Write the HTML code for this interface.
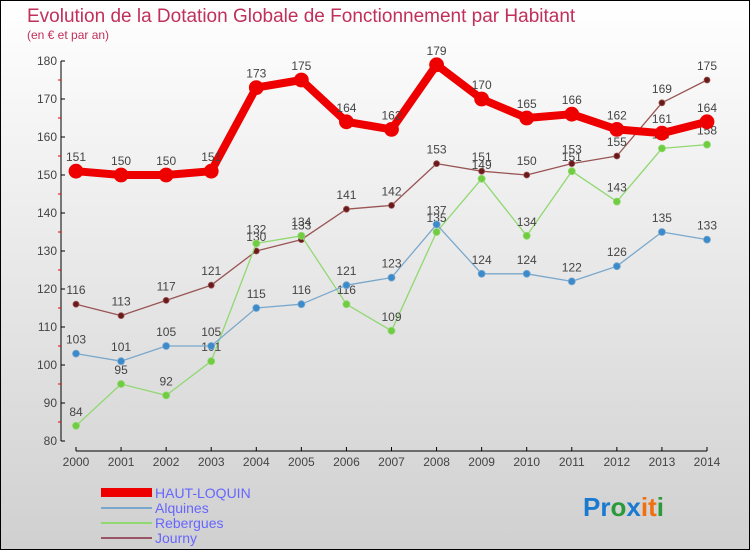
<!DOCTYPE html>
<html><head><meta charset="utf-8"><style>
body{margin:0}
#c{width:748px;height:548px;border:1px solid #000;background:linear-gradient(#fff,#d0d0d0);position:relative;font-family:"Liberation Sans",sans-serif}
</style></head><body>
<div id="c">
<svg id="s" width="748" height="548" style="position:absolute;left:0;top:0">
<text x="26" y="21" font-size="19" fill="#c0305a">Evolution de la Dotation Globale de Fonctionnement par Habitant</text>
<text x="26" y="38" font-size="12" fill="#c0305a">(en € et par an)</text>
<g id="axes"></g><g id="series"></g>
<g>
<rect x="100" y="487" width="51" height="9" fill="#e00"/>
<text x="154" y="497" font-size="14" fill="#66f">HAUT-LOQUIN</text>
<rect x="100" y="506" width="51" height="2" fill="#7aa8cc"/>
<text x="154" y="512" font-size="14" fill="#66f">Alquines</text>
<rect x="100" y="521" width="51" height="2" fill="#90d870"/>
<text x="154" y="527" font-size="14" fill="#66f">Rebergues</text>
<rect x="100" y="536" width="51" height="2" fill="#956"/>
<text x="154" y="542" font-size="14" fill="#66f">Journy</text>
</g>
<text x="582" y="515" font-size="26" font-weight="bold"><tspan fill="#1a7ad0">Pr</tspan><tspan fill="#2a9a3a">o</tspan><tspan fill="#1a7ad0">x</tspan><tspan fill="#f07010">i</tspan><tspan fill="#f07010">t</tspan><tspan fill="#2a9a3a">i</tspan></text>
</svg></div>
<script>
const years=[2000,2001,2002,2003,2004,2005,2006,2007,2008,2009,2010,2011,2012,2013,2014];
const hautLoquin=[151,150,150,151,173,175,164,162,179,170,165,166,162,161,164];
const alquines=[103,101,105,105,115,116,121,123,137,124,124,122,126,135,133];
const rebergues=[84,95,92,101,132,134,116,109,135,149,134,151,143,157,158];
const journy=[116,113,117,121,130,133,141,142,153,151,150,153,155,169,175];
const yTicks=[80,90,100,110,120,130,140,150,160,170,180];
const NS='http://www.w3.org/2000/svg';
function X(i){return 75+i*(631/14);}
function Y(v){return 440-(v-80)*3.8;}
function mk(t,a,p){const e=document.createElementNS(NS,t);for(const k in a)e.setAttribute(k,a[k]);p.appendChild(e);return e;}
const ax=document.getElementById('axes');
let l=mk('line',{x1:60,y1:60,x2:60,y2:440,stroke:'#000'},ax);


l=mk('line',{x1:75,y1:450,x2:706,y2:450,stroke:'#000'},ax);


yTicks.forEach((v,i)=>{
 mk('line',{x1:60,y1:Y(v),x2:64,y2:Y(v),stroke:'#000'},ax);
 if(i<yTicks.length-1)mk('line',{x1:57,y1:Y(v+5),x2:60,y2:Y(v+5),stroke:'#e00'},ax);
 const t=mk('text',{x:56,y:Y(v)+4,'font-size':12,fill:'#444','text-anchor':'end'},ax);t.textContent=v;
 
 
});
years.forEach((y,i)=>{
 mk('line',{x1:X(i),y1:446,x2:X(i),y2:450,stroke:'#000'},ax);
 const t=mk('text',{x:X(i),y:465,'font-size':12,fill:'#444','text-anchor':'middle'},ax);t.textContent=y;
 
 
});
const sg=document.getElementById('series');
function draw(d,name,col,pt,w,r){
 const g=mk('g',{},sg);
 
 
 mk('polyline',{points:d.map((v,i)=>X(i)+','+Y(v)).join(' '),fill:'none',stroke:col,'stroke-width':w,'stroke-linejoin':'round'},g);
 d.forEach((v,i)=>{
  const c=mk('circle',{cx:X(i),cy:Y(v),r:r,fill:pt,stroke:col,'stroke-width':0.8},g);
  
  
  const t=mk('text',{x:X(i),y:Y(v)-10,'font-size':12,fill:'#444','text-anchor':'middle'},g);t.textContent=v;
  
  
 });
}
draw(journy,'journy','#955','#6a1a1a',1.3,3);
draw(rebergues,'rebergues','#90d870','#70cc40',1.3,3.5);
draw(alquines,'alquines','#7aa8cc','#3a8acc',1.3,3.5);
draw(hautLoquin,'haut-loquin','#e00','#e00',8,7);
</script>
</body></html>
